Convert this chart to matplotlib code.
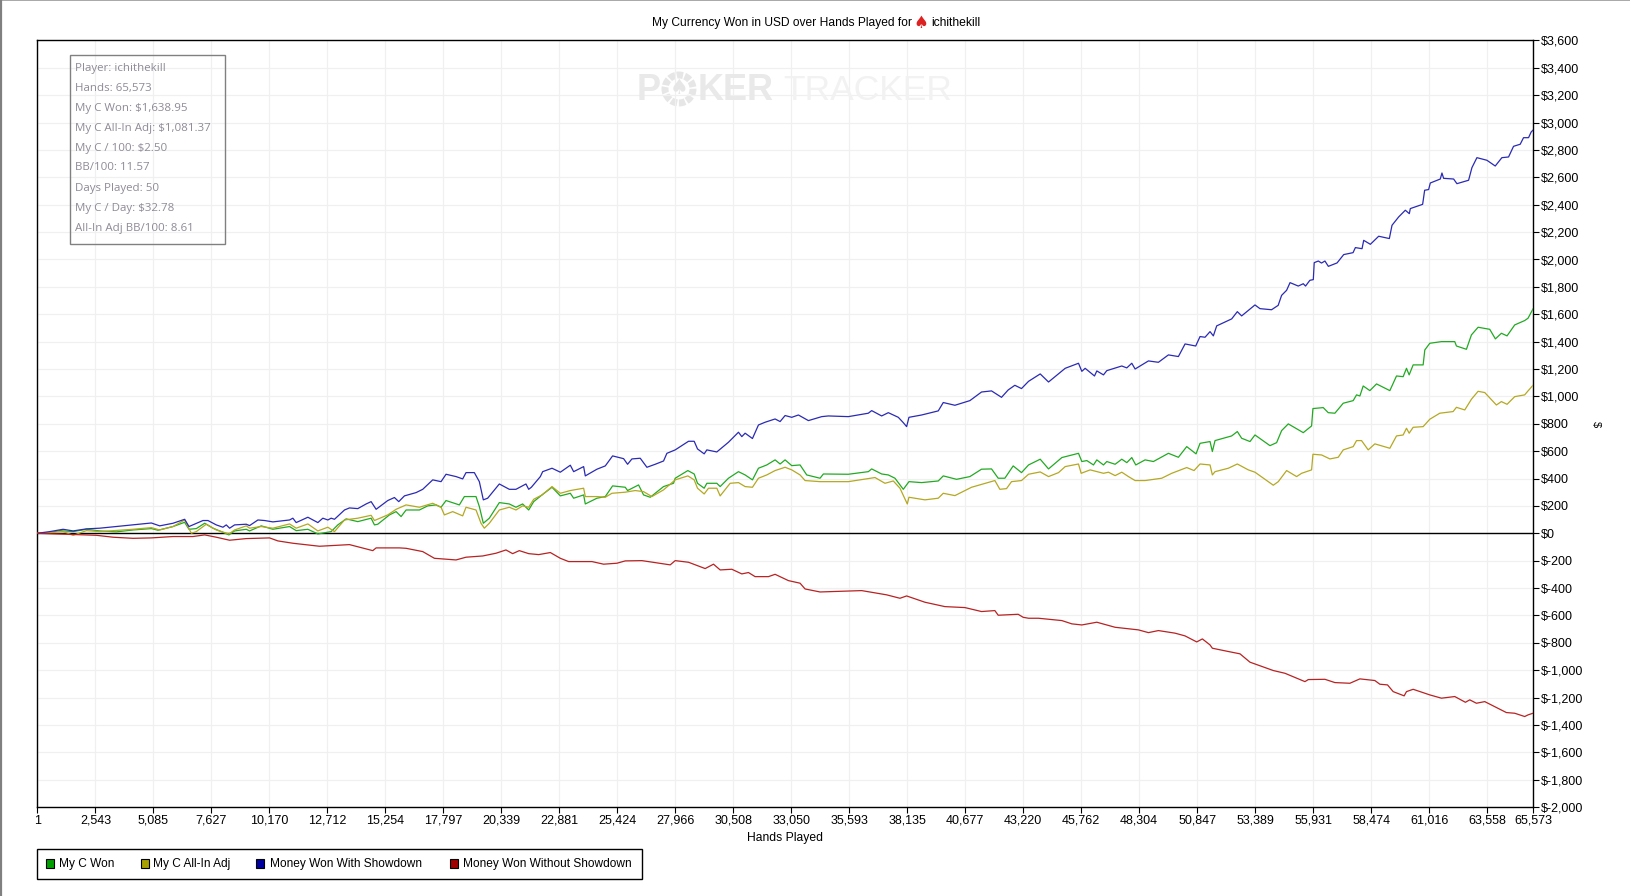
import matplotlib
matplotlib.use("Agg")
import matplotlib.pyplot as plt
from matplotlib.lines import Line2D
from matplotlib.patches import Rectangle, Circle

W, H = 1631, 896

TITLE = "My Currency Won in USD over Hands Played for"
PLAYER = "ichithekill"

x_ticks = [1, 2543, 5085, 7627, 10170, 12712, 15254, 17797, 20339, 22881, 25424, 27966, 30508, 33050,
           35593, 38135, 40677, 43220, 45762, 48304, 50847, 53389, 55931, 58474, 61016, 63558, 65573]
y_ticks = list(range(-2000, 3601, 200))

stats = ["Player: ichithekill", "Hands: 65,573", "My C Won: $1,638.95", "My C All-In Adj: $1,081.37",
         "My C / 100: $2.50", "BB/100: 11.57", "Days Played: 50", "My C / Day: $32.78",
         "All-In Adj BB/100: 8.61"]

blue_hands = [1, 540, 1124, 1562, 2146, 2730, 3460, 4190, 4993, 5358, 5942, 6453, 6643, 7256, 7475, 7840, 8132,
              8278, 8424, 8643, 9154, 9300, 9665, 9957, 10322, 11052, 11198, 11344, 11855, 12293, 12512, 12731,
              12877, 13023, 13461, 13680, 14045, 14410, 14629, 14848, 15359, 15651, 15841, 16089, 16600, 16892,
              17330, 17695, 17914, 18352, 18644, 18790, 19155, 19374, 19549, 19739, 20250, 20688, 20980, 21418,
              21538, 21655, 22049, 22151, 22560, 22925, 23363, 23509, 23947, 24020, 24531, 24896, 25217, 25699,
              25874, 26064, 26429, 26721, 27086, 27451, 27597, 27962, 28546, 28794, 28940, 29232, 29349, 29787,
              30298, 30736, 30882, 31028, 31349, 31612, 31903, 32342, 32561, 32780, 33072, 33364, 33802, 34386,
              34678, 35554, 36430, 36576, 37014, 37306, 37744, 37963, 38109, 38211, 38766, 39496, 39715, 40226,
              40883, 41394, 41832, 42270, 42562, 42854, 43146, 43455, 43966, 44331, 45061, 45645, 45791, 45937,
              46346, 46448, 46740, 46886, 47543, 47762, 47981, 48127, 48711, 49149, 49587, 50025, 50317, 50784,
              50974, 51193, 51412, 51558, 51704, 52361, 52609, 52799, 53383, 53600, 54110, 54400, 54550, 54770,
              54920, 55280, 55500, 55600, 55790, 55940, 55980, 56160, 56300, 56450, 56600, 56982, 57274, 57683,
              57785, 58077, 58150, 58442, 58807, 59274, 59391, 59683, 59975, 60150, 60194, 60734, 60822, 60997,
              61070, 61508, 61581, 61654, 62092, 62238, 62749, 62895, 63114, 63552, 63917, 64209, 64501, 64720,
              65012, 65158, 65377, 65494, 65573]
blue_won = [0, 12, 29, 17, 32, 37, 49, 61, 75, 54, 73, 102, 49, 93, 93, 61, 44,
            61, 37, 61, 66, 56, 97, 93, 83, 97, 110, 78, 117, 78, 110, 97,
            110, 102, 170, 185, 180, 214, 231, 175, 239, 261, 231, 273, 297, 321,
            390, 377, 431, 414, 397, 443, 443, 377, 244, 256, 360, 321, 321, 360,
            321, 336, 414, 450, 475, 446, 497, 450, 487, 419, 468, 492, 565, 545,
            504, 543, 548, 482, 504, 528, 584, 609, 672, 672, 616, 580, 609, 594,
            665, 738, 706, 731, 692, 791, 811, 835, 816, 860, 847, 864, 823, 852,
            857, 852, 877, 896, 857, 881, 847, 808, 779, 847, 864, 894, 955, 935,
            969, 1032, 1040, 993, 1047, 1081, 1057, 1110, 1164, 1105, 1205, 1242, 1183, 1205,
            1149, 1186, 1157, 1188, 1222, 1208, 1242, 1200, 1259, 1249, 1303, 1291, 1383, 1368,
            1437, 1432, 1473, 1442, 1515, 1566, 1619, 1588, 1668, 1641, 1633, 1665, 1738, 1775,
            1831, 1806, 1823, 1806, 1848, 1853, 1977, 1989, 1974, 1989, 1950, 1975, 2036, 2050,
            2087, 2079, 2140, 2111, 2170, 2153, 2250, 2311, 2360, 2335, 2372, 2403, 2506, 2511,
            2559, 2588, 2632, 2593, 2588, 2554, 2579, 2671, 2744, 2725, 2683, 2744, 2749, 2827,
            2842, 2890, 2890, 2932, 2945]

green_hands = [1, 540, 978, 1562, 2146, 2730, 3460, 4190, 4993, 5285, 5942, 6453, 6643, 6964, 7329, 7694, 8059,
               8395, 8643, 9154, 9300, 9811, 10322, 11052, 11344, 11855, 12293, 12877, 13169, 13534, 14045, 14629,
               14775, 14921, 15432, 15724, 15943, 16162, 16746, 17111, 17476, 17695, 17914, 18498, 18717, 19228,
               19374, 19549, 19812, 20250, 20688, 20980, 21272, 21538, 21757, 22122, 22560, 22925, 23363, 23509,
               23947, 24020, 24531, 24896, 25217, 25772, 25874, 26356, 26575, 26867, 27451, 27889, 27962, 28516,
               28794, 28940, 29232, 29349, 29787, 29933, 30298, 30736, 31028, 31349, 31612, 31977, 32342, 32561,
               32780, 33072, 33437, 33729, 34313, 34459, 35554, 36430, 36576, 37014, 37306, 37598, 37963, 38211,
               38766, 39496, 39715, 40299, 40883, 41394, 41832, 42124, 42416, 42781, 43146, 43455, 43966, 44331,
               44915, 45645, 45791, 46010, 46302, 46448, 46740, 46886, 47251, 47543, 47762, 47981, 48156, 48565,
               48930, 49587, 50025, 50390, 50799, 50974, 51412, 51514, 51631, 52361, 52609, 52799, 53164, 53383,
               54040, 54332, 54551, 54843, 55500, 55865, 55924, 56376, 56595, 56887, 57252, 57690, 57836, 57982,
               58128, 58420, 58712, 59296, 59588, 59880, 60026, 60143, 60318, 60756, 60829, 61048, 61559, 62143,
               62216, 62654, 62873, 63165, 63676, 63924, 64187, 64435, 64771, 65209, 65355, 65573]
green_won = [0, 5, 19, 12, 29, 17, 10, 24, 34, 22, 49, 80, 29, 34, 73, 37, 12,
             -12, 17, 29, 17, 54, 29, 49, 19, 29, -5, 12, 61, 105, 85, 110,
             61, 66, 134, 158, 122, 170, 170, 200, 207, 190, 239, 207, 268, 268,
             195, 73, 110, 224, 214, 190, 214, 170, 231, 280, 336, 273, 292, 256,
             280, 214, 256, 268, 346, 336, 312, 353, 280, 263, 341, 365, 402, 458,
             433, 365, 329, 365, 365, 341, 402, 450, 426, 390, 475, 499, 536, 506,
             536, 494, 499, 426, 402, 433, 431, 450, 470, 433, 426, 402, 321, 377,
             370, 382, 419, 394, 414, 468, 470, 402, 402, 492, 443, 499, 541, 470,
             553, 584, 524, 531, 499, 536, 499, 524, 504, 541, 516, 553, 499, 536,
             524, 584, 555, 633, 580, 657, 670, 597, 677, 711, 743, 694, 670, 718,
             640, 662, 750, 799, 735, 784, 911, 918, 881, 877, 950, 969, 1011, 1003,
             1076, 1042, 1091, 1042, 1149, 1144, 1205, 1157, 1230, 1230, 1339, 1388, 1400, 1400,
             1368, 1344, 1449, 1505, 1490, 1420, 1461, 1442, 1522, 1554, 1571, 1639]

olive_hands = [1, 1124, 1562, 2146, 2730, 4190, 4993, 5358, 5942, 6453, 6745, 6964, 7402, 7840, 8395, 8643, 9154,
               9300, 9811, 10322, 11052, 11344, 11855, 12293, 12731, 13023, 13461, 14045, 14629, 14775, 15359, 15724,
               16162, 16746, 17330, 17695, 17841, 18206, 18644, 18790, 19228, 19447, 19593, 19812, 20250, 20688,
               20980, 21272, 21538, 21757, 22122, 22560, 22925, 23363, 23947, 24020, 24531, 24896, 25188, 25772,
               26210, 26575, 26940, 27451, 27962, 28516, 28794, 28940, 29232, 29422, 29787, 29933, 30371, 30736,
               31028, 31349, 31612, 31977, 32342, 32780, 33072, 33437, 33656, 34313, 35554, 36722, 37160, 37525,
               37817, 38138, 38211, 38912, 39496, 39715, 40226, 40956, 41978, 42197, 42489, 42708, 43146, 43455,
               43966, 44331, 44769, 45061, 45645, 45762, 46156, 46740, 46959, 47251, 47543, 47835, 48127, 48565,
               49295, 49733, 50390, 50711, 50974, 51412, 51514, 51631, 52215, 52609, 53091, 53383, 53967, 54186,
               54405, 54770, 55208, 55427, 55865, 55924, 56303, 56668, 57033, 57252, 57690, 57836, 58055, 58347,
               58639, 59296, 59588, 59880, 60026, 60143, 60318, 60756, 61048, 61486, 62070, 62216, 62581, 62873,
               63165, 63457, 63968, 64187, 64435, 64771, 65209, 65355, 65573]
olive_adj = [0, 12, -15, 19, 12, 29, 41, 24, 49, 97, 0, 12, 66, 24, -5, 24, 54,
             37, 49, 37, 68, 37, 68, 17, 44, 12, 97, 110, 131, 93, 134, 175,
             207, 190, 219, 190, 134, 158, 127, 190, 170, 73, 37, 73, 170, 190,
             170, 200, 190, 248, 280, 341, 292, 312, 329, 268, 268, 263, 292, 300,
             312, 304, 268, 317, 390, 419, 390, 329, 287, 329, 329, 273, 365, 370,
             341, 336, 402, 426, 458, 482, 463, 426, 385, 377, 377, 407, 365, 382,
             329, 214, 263, 244, 256, 292, 275, 336, 385, 321, 326, 377, 385, 431,
             448, 414, 443, 487, 506, 438, 463, 438, 446, 421, 446, 414, 385, 385,
             402, 438, 480, 458, 506, 499, 426, 450, 475, 506, 463, 446, 377, 351,
             377, 458, 414, 438, 463, 577, 572, 543, 555, 609, 633, 677, 677, 609,
             653, 621, 711, 718, 767, 731, 774, 779, 833, 877, 889, 920, 901, 979,
             1037, 1028, 937, 962, 942, 998, 1011, 1040, 1081]

red_hands = [1, 832, 2584, 3314, 4190, 4993, 5942, 6818, 7329, 7840, 8424, 9154, 10176, 10541, 11198, 12366, 13680,
             14702, 14848, 15870, 16162, 16892, 17403, 18352, 18790, 19520, 20104, 20542, 20834, 21126, 21538, 21976,
             22487, 22925, 23290, 24312, 24823, 25407, 25772, 26502, 27743, 27962, 28546, 29276, 29641, 29933, 30444,
             30882, 31174, 31466, 32050, 32342, 32926, 33437, 33656, 34313, 36138, 37233, 37817, 38109, 38912, 39788,
             40664, 41394, 41978, 42124, 42999, 43218, 43455, 43893, 44915, 45353, 45791, 46448, 47251, 48273, 48711,
             49149, 49879, 50317, 50828, 51076, 51412, 51514, 52215, 52726, 53164, 54186, 54697, 55573, 55719, 56449,
             56887, 57544, 57982, 58639, 58858, 59194, 59442, 59924, 60026, 60318, 61048, 61559, 62143, 62610, 62800,
             63092, 63457, 64406, 64771, 65209, 65355, 65573]
red_won = [0, -5, -15, -29, -37, -34, -24, -24, -12, -29, -51, -39, -34, -56, -73, -95, -83,
           -127, -107, -107, -110, -134, -183, -195, -175, -166, -146, -122, -149, -127, -149, -156,
           -141, -183, -207, -207, -226, -219, -202, -200, -231, -200, -212, -258, -226, -268, -263,
           -297, -287, -317, -317, -300, -346, -365, -407, -429, -419, -450, -475, -458, -504, -536,
           -543, -572, -565, -599, -592, -614, -621, -621, -638, -662, -670, -650, -687, -706, -726,
           -711, -730, -750, -794, -772, -816, -840, -864, -881, -942, -1003, -1023, -1084, -1069, -1067,
           -1091, -1096, -1064, -1076, -1103, -1108, -1157, -1188, -1157, -1140, -1181, -1205, -1193, -1235, -1217,
           -1242, -1230, -1310, -1315, -1339, -1327, -1315]

plt.rcParams["font.family"] = ["Liberation Sans", "DejaVu Sans"]


def px_text(fig, x, y, s, **kwargs):
    # place text using pixel coords measured from the top left
    kwargs.setdefault("va", "center")
    return fig.text(x / W, 1 - y / H, s, **kwargs)


def px_rect(fig, x0, y0, x1, y1, **kwargs):
    rect = Rectangle((x0 / W, 1 - y1 / H), (x1 - x0) / W, (y1 - y0) / H, transform=fig.transFigure, **kwargs)
    fig.add_artist(rect)
    return rect


def draw_watermark(fig):
    px_text(fig, 637, 91, "P", fontsize=26, fontweight="bold", color="#e9e9e9", zorder=0)
    px_text(fig, 698, 91, "KER", fontsize=26, fontweight="bold", color="#e9e9e9", zorder=0)
    px_text(fig, 783, 91, "TRACKER", fontsize=25.5, color="#f2f2f2", zorder=0)
    ring = Circle((679, H - 89), 14, transform=None, fill=False, ec="#e6e6e6", lw=5,
                  linestyle=(0, (0.9, 0.25)), zorder=0)
    fig.add_artist(ring)
    px_text(fig, 679, 88, "\u2660", fontsize=15, color="#e6e6e6", ha="center", family="DejaVu Sans", zorder=0)


def main():
    fig = plt.figure(figsize=(W / 100, H / 100), dpi=100)
    ax = fig.add_axes([37.5 / W, 1 - 807 / H, (1533 - 37.5) / W, (807 - 40.5) / H])
    ax.patch.set_alpha(0)

    draw_watermark(fig)

    ax.set_xlim(1, 65573)
    ax.set_ylim(-2000, 3600)
    ax.set_xticks(x_ticks)
    ax.set_xticklabels([f"{v:,}" for v in x_ticks])
    ax.set_yticks(y_ticks)
    ax.set_yticklabels([f"${v:,}" for v in y_ticks])
    ax.yaxis.tick_right()
    ax.tick_params(length=4, width=0.8, labelsize=9, color="black")
    ax.tick_params(axis="x", pad=1.5)
    ax.tick_params(axis="y", pad=1.5)
    ax.grid(True, color="#f0f0f0", lw=0.9)
    ax.set_axisbelow(True)
    for spine in ax.spines.values():
        spine.set_linewidth(1.0)

    ax.axhline(0, color="black", lw=1.0, zorder=2)
    ax.plot(green_hands, green_won, color="#22aa22", lw=0.9, zorder=3)
    ax.plot(olive_hands, olive_adj, color="#b5a822", lw=0.9, zorder=3)
    ax.plot(blue_hands, blue_won, color="#2a2ab5", lw=0.9, zorder=3)
    ax.plot(red_hands, red_won, color="#b82222", lw=0.9, zorder=3)

    # title, icon and axis names
    px_text(fig, 652, 23, TITLE, fontsize=8.65, color="black")
    px_text(fig, 921, 23, "\u2660", fontsize=12, color="#dd2222", ha="center", family="DejaVu Sans")
    px_text(fig, 931, 23, PLAYER, fontsize=8.7, color="black")
    px_text(fig, 785, 838, "Hands Played", fontsize=8.7, ha="center")
    px_text(fig, 1596, 424, "$", fontsize=8, ha="center", rotation=-90)

    # player stats box
    px_rect(fig, 70.5, 55.5, 225.5, 244.5, fill=False, ec="#808080", lw=1.0, zorder=5)
    for i, line in enumerate(stats):
        px_text(fig, 75.5, 68 + 20 * i, line, fontsize=8.25, color="#8f8a96", family="Open Sans", zorder=5)

    # legend, placed by hand like the original
    px_rect(fig, 37.5, 848.5, 642, 879, fc="white", ec="black", lw=1.0)
    legend_items = [
        ("My C Won", "#00a000", 46.5, 59.5),
        ("My C All-In Adj", "#a8a000", 140.5, 153.5),
        ("Money Won With Showdown", "#0000a0", 256, 269.5),
        ("Money Won Without Showdown", "#a00000", 450, 463.5),
    ]
    for label, colour, swatch_x, text_x in legend_items:
        px_rect(fig, swatch_x, 859, swatch_x + 8, 868, fc=colour, ec="black", lw=0.8)
        px_text(fig, text_x, 864, label, fontsize=8.6)

    # window frame edge seen at the top and left of the screenshot
    fig.add_artist(Line2D([0, 1], [1 - 0.5 / H, 1 - 0.5 / H], color="#999999", lw=1.2))
    fig.add_artist(Line2D([1 / W, 1 / W], [0, 1], color="#808080", lw=1.6))

    fig.savefig("out.png", dpi=100)


if __name__ == "__main__":
    main()
